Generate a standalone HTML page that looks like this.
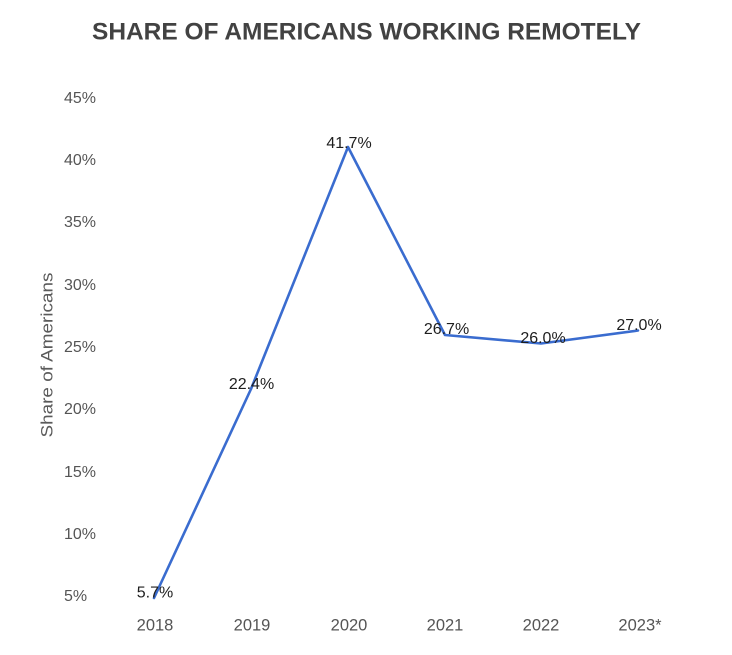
<!DOCTYPE html>
<html>
<head>
<meta charset="utf-8">
<style>
  html, body { margin: 0; padding: 0; background: #ffffff; }
  svg { display: block; }
  text { font-family: "Liberation Sans", Arial, sans-serif; }
</style>
</head>
<body>
<svg width="732" height="655" viewBox="0 0 732 655" xmlns="http://www.w3.org/2000/svg">
  <rect x="0" y="0" width="732" height="655" fill="#ffffff"/>

  <!-- Title -->
  <text x="92" y="39.5" font-size="24" font-weight="bold" fill="#424242" textLength="549" lengthAdjust="spacingAndGlyphs">SHARE OF AMERICANS WORKING REMOTELY</text>

  <!-- Y axis tick labels -->
  <g font-size="16" fill="#555555">
    <text x="64" y="103">45%</text>
    <text x="64" y="165">40%</text>
    <text x="64" y="227">35%</text>
    <text x="64" y="290">30%</text>
    <text x="64" y="352">25%</text>
    <text x="64" y="414">20%</text>
    <text x="64" y="477">15%</text>
    <text x="64" y="539">10%</text>
    <text x="64" y="601">5%</text>
  </g>

  <!-- Y axis title -->
  <text transform="translate(52.5,355) rotate(-90)" text-anchor="middle" font-size="16.5" fill="#5a5a5a" textLength="165" lengthAdjust="spacingAndGlyphs">Share of Americans</text>

  <!-- X axis labels -->
  <g font-size="16.5" fill="#555555" text-anchor="middle">
    <text x="155" y="630.5">2018</text>
    <text x="252" y="630.5">2019</text>
    <text x="349" y="630.5">2020</text>
    <text x="445" y="630.5">2021</text>
    <text x="541" y="630.5">2022</text>
    <text x="640" y="630.5">2023*</text>
  </g>

  <!-- Data line -->
  <polyline points="154,598 251,389 348,147 445,335 541,343.5 638,330.5"
            fill="none" stroke="#3a6ccf" stroke-width="2.6" stroke-linejoin="round" stroke-linecap="round"/>

  <!-- Data labels -->
  <g font-size="16" fill="#1e1e1e" text-anchor="middle">
    <text x="155" y="597.5">5.7%</text>
    <text x="251.5" y="389">22.4%</text>
    <text x="349" y="148">41.7%</text>
    <text x="446.5" y="334">26.7%</text>
    <text x="543" y="343">26.0%</text>
    <text x="639" y="330">27.0%</text>
  </g>
</svg>
</body>
</html>
